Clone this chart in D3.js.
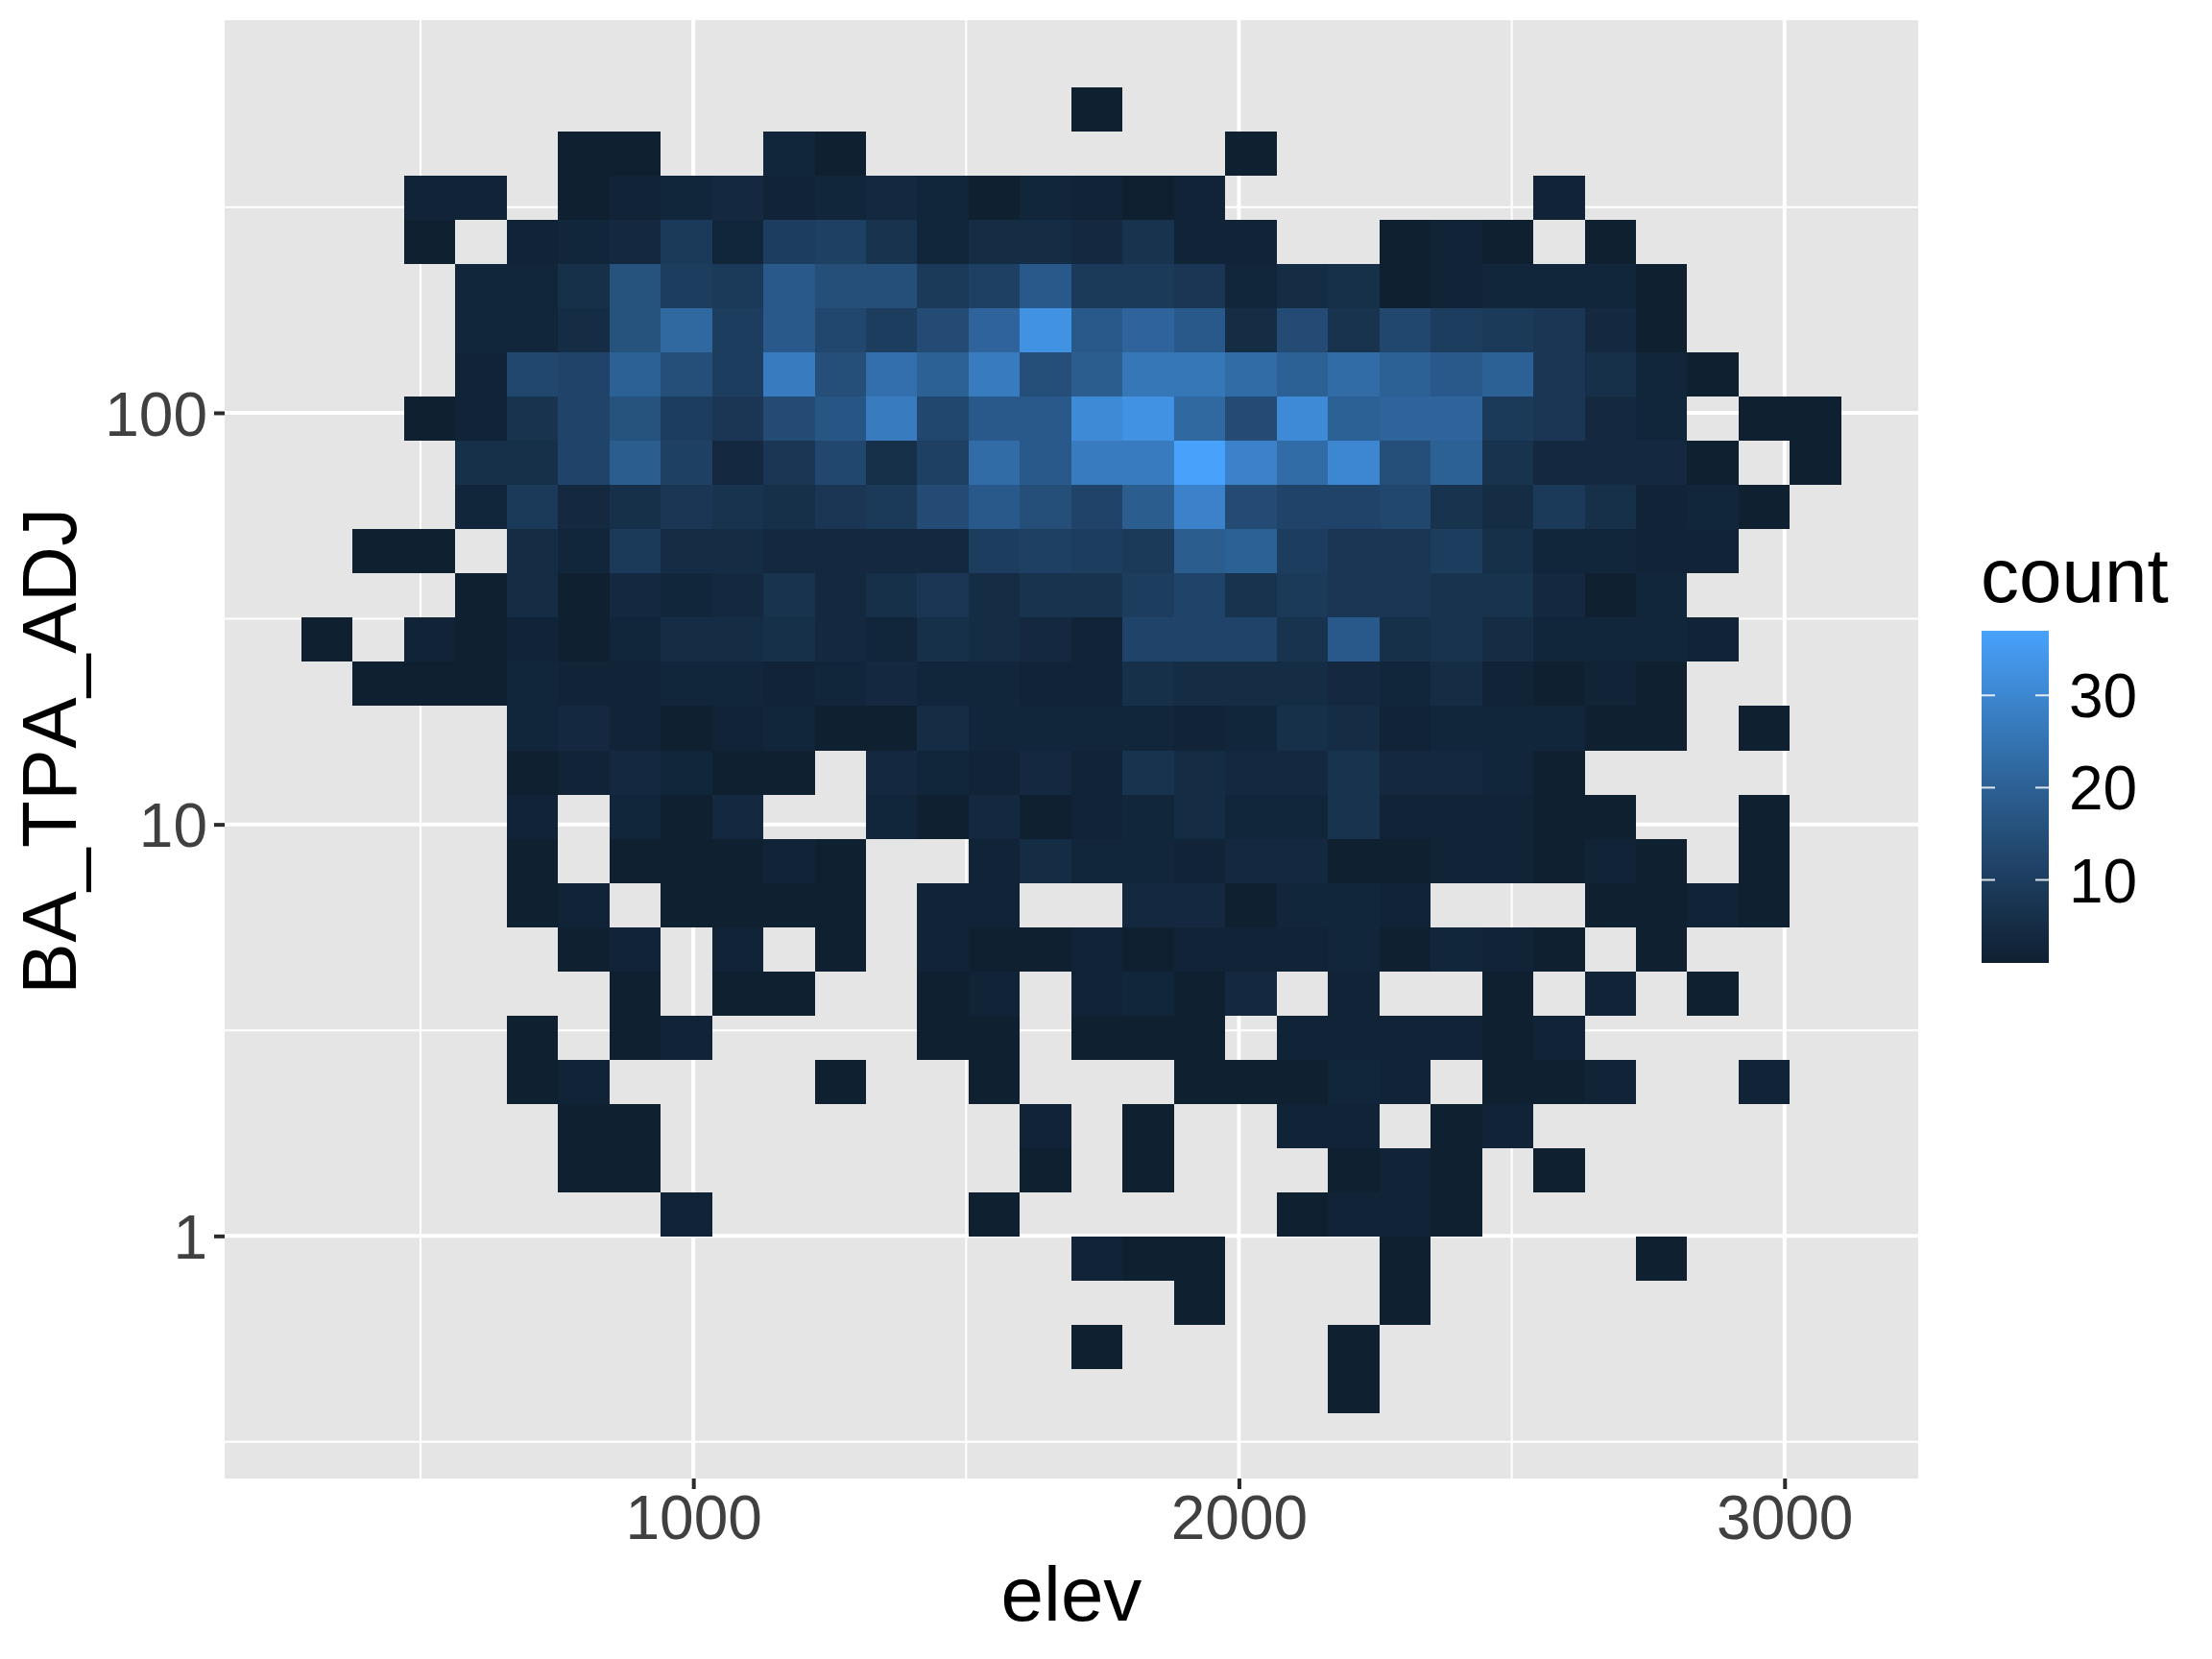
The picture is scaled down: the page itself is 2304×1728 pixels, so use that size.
<!DOCTYPE html>
<html>
<head>
<meta charset="utf-8">
<script src="https://cdnjs.cloudflare.com/ajax/libs/d3/7.8.5/d3.min.js"></script>
<style>
html,body{margin:0;padding:0;background:#fff}
svg{display:block}
text{font-family:"Liberation Sans",Arial,sans-serif;font-kerning:none}
</style>
</head>
<body>
<svg id="chart" width="2304" height="1728"></svg>
<script>
// Bin layout
const elevFirstEdge = 281.6, elevBinWidth = 94.08;
const logFirstEdge = -0.4309, logBinWidth = 0.10739;
const xDomain = [141, 3245];
const yDomain = [0.2574, 899.5];
const xMajor = [1000, 2000, 3000], xMinor = [500, 1500, 2500];
const yMajor = [1, 10, 100], yMinor = [0.316, 3.16, 31.6, 316];
const legendTicks = [10, 20, 30];
const countRange = [1, 37];
// counts per bin: rows from the top of the chart, 30 elev bins each, 0 = no cell
const counts = [
[0,0,0,0,0,0,0,0,0,0,0,0,0,0,0,1,0,0,0,0,0,0,0,0,0,0,0,0,0,0],
[0,0,0,0,0,1,1,0,0,3,1,0,0,0,0,0,0,0,1,0,0,0,0,0,0,0,0,0,0,0],
[0,0,2,2,0,1,2,3,4,2,3,4,3,1,3,2,1,2,0,0,0,0,0,0,2,0,0,0,0,0],
[0,0,1,0,2,3,4,9,3,10,11,7,3,5,5,4,7,2,2,0,0,1,2,1,0,1,0,0,0,0],
[0,0,0,3,3,6,16,10,9,18,15,15,9,11,18,9,9,8,3,5,6,1,2,3,3,3,1,0,0,0],
[0,0,0,3,3,5,16,22,10,18,13,10,14,21,33,18,21,18,5,14,7,13,10,9,8,4,1,0,0,0],
[0,0,0,2,13,12,20,15,10,27,15,24,20,27,15,19,26,26,23,20,23,20,18,20,8,6,3,1,0,0],
[0,0,1,2,7,12,16,10,8,14,17,27,13,18,18,31,33,22,14,31,20,21,21,9,8,4,3,0,1,1],
[0,0,0,6,6,12,19,11,4,8,13,6,11,23,18,27,27,37,29,23,30,15,20,7,4,4,4,1,0,1],
[0,0,0,3,9,4,6,8,7,6,8,9,14,18,15,12,19,29,14,12,12,13,7,5,9,6,2,3,1,0],
[0,1,1,0,5,3,9,5,5,4,4,4,4,10,11,10,9,19,20,10,8,8,10,6,3,3,2,2,0,0],
[0,0,0,1,5,1,4,3,4,7,4,6,8,5,7,7,10,12,7,9,8,8,7,7,4,1,3,0,0,0],
[1,0,2,1,2,1,3,5,5,6,4,3,6,5,4,2,12,12,12,7,18,6,7,5,3,3,3,2,0,0],
[0,1,1,1,3,2,2,3,3,2,3,4,3,3,2,2,6,5,5,5,4,3,5,2,1,2,1,0,0,0],
[0,0,0,0,3,4,2,1,2,3,1,1,5,3,3,3,3,2,3,6,5,2,3,3,3,1,1,0,1,0],
[0,0,0,0,1,2,4,3,1,1,0,4,3,2,4,2,7,5,4,4,7,4,4,3,1,0,0,0,0,0],
[0,0,0,0,2,0,3,1,4,0,0,3,1,4,1,2,3,5,3,3,7,2,2,2,1,1,0,0,1,0],
[0,0,0,0,1,0,1,1,1,2,1,0,0,2,5,3,3,2,4,4,1,1,2,2,1,2,1,0,1,0],
[0,0,0,0,1,2,0,1,1,1,1,0,2,2,0,0,4,4,1,3,3,2,0,0,0,1,1,2,1,0],
[0,0,0,0,0,1,2,0,2,0,1,0,2,1,1,2,1,2,2,2,3,1,3,2,1,0,1,0,0,0],
[0,0,0,0,0,0,1,0,1,1,0,0,1,2,0,2,3,1,4,0,2,0,0,1,0,2,0,1,0,0],
[0,0,0,0,1,0,1,2,0,0,0,0,1,1,0,1,1,1,0,2,2,2,2,1,2,0,0,0,0,0],
[0,0,0,0,1,2,0,0,0,0,1,0,0,1,0,0,0,1,1,1,3,2,0,1,1,2,0,0,2,0],
[0,0,0,0,0,1,1,0,0,0,0,0,0,0,2,0,1,0,0,2,2,0,1,2,0,0,0,0,0,0],
[0,0,0,0,0,1,1,0,0,0,0,0,0,0,1,0,1,0,0,0,1,2,1,0,1,0,0,0,0,0],
[0,0,0,0,0,0,0,2,0,0,0,0,0,1,0,0,0,0,0,1,2,2,1,0,0,0,0,0,0,0],
[0,0,0,0,0,0,0,0,0,0,0,0,0,0,0,2,1,1,0,0,0,1,0,0,0,0,1,0,0,0],
[0,0,0,0,0,0,0,0,0,0,0,0,0,0,0,0,0,1,0,0,0,1,0,0,0,0,0,0,0,0],
[0,0,0,0,0,0,0,0,0,0,0,0,0,0,0,1,0,0,0,0,1,0,0,0,0,0,0,0,0,0],
[0,0,0,0,0,0,0,0,0,0,0,0,0,0,0,0,0,0,0,0,1,0,0,0,0,0,0,0,0,0]
];
const lowColor = "#0f2031", highColor = "#48a2fb";

const panel = {left:234, right:1998, top:21, bottom:1540};
const legend = {x:2064, w:70, top:657, bottom:1003};

const svg = d3.select("#chart");
const x = d3.scaleLinear().domain(xDomain).range([panel.left, panel.right]);
const y = d3.scaleLog().domain(yDomain).range([panel.bottom, panel.top]);
const color = d3.scaleLinear().domain(countRange).range([lowColor, highColor]).interpolate(d3.interpolateLab);

svg.append("rect").attr("x",panel.left).attr("y",panel.top)
  .attr("width",panel.right-panel.left).attr("height",panel.bottom-panel.top).attr("fill","#e5e5e5");

const grid = svg.append("g").attr("stroke","#fff");
grid.selectAll(".xmin").data(xMinor).join("line").attr("x1",x).attr("x2",x)
  .attr("y1",panel.top).attr("y2",panel.bottom).attr("stroke-width",2);
grid.selectAll(".ymin").data(yMinor).join("line").attr("y1",y).attr("y2",y)
  .attr("x1",panel.left).attr("x2",panel.right).attr("stroke-width",2);
grid.selectAll(".xmaj").data(xMajor).join("line").attr("x1",x).attr("x2",x)
  .attr("y1",panel.top).attr("y2",panel.bottom).attr("stroke-width",4);
grid.selectAll(".ymaj").data(yMajor).join("line").attr("y1",y).attr("y2",y)
  .attr("x1",panel.left).attr("x2",panel.right).attr("stroke-width",4);

// cells
const nRows = counts.length;
const cells = [];
counts.forEach((row,r)=>row.forEach((c,k)=>{ if(c>0) cells.push({r,k,c}); }));
const xEdge = k => x(elevFirstEdge + k*elevBinWidth);
const yEdge = i => y(Math.pow(10, logFirstEdge + i*logBinWidth));
svg.append("g").attr("shape-rendering","crispEdges").selectAll("rect").data(cells).join("rect")
  .attr("x",d=>xEdge(d.k))
  .attr("width",d=>xEdge(d.k+1)-xEdge(d.k))
  .attr("y",d=>yEdge(nRows-d.r))
  .attr("height",d=>yEdge(nRows-d.r-1)-yEdge(nRows-d.r))
  .attr("fill",d=>color(d.c));

// axes
const tickFont = 64, titleFont = 80;
const xAxis = d3.axisBottom(x).tickValues(xMajor).tickFormat(d3.format("d")).tickSizeOuter(0).tickSize(11).tickPadding(8);
const gx = svg.append("g").attr("transform",`translate(0,${panel.bottom})`).call(xAxis);
const yAxis = d3.axisLeft(y).tickValues(yMajor).tickFormat(d3.format("d")).tickSizeOuter(0).tickSize(11).tickPadding(7);
const gy = svg.append("g").attr("transform",`translate(${panel.left},0)`).call(yAxis);
[gx,gy].forEach(g=>{
  g.select(".domain").remove();
  g.selectAll("line").attr("stroke","#2b2b2b").attr("stroke-width",4);
  g.selectAll("text").attr("font-size",tickFont).attr("fill","#404040")
   .attr("font-family",'"Liberation Sans",Arial,sans-serif');
});
gx.selectAll("text").attr("dy",null).attr("y",null).attr("transform",null)
  .attr("dominant-baseline",null).attr("y",63);
gy.selectAll("text").attr("dy","0.36em");

svg.append("text").text("elev").attr("x",(panel.left+panel.right)/2).attr("y",1688)
  .attr("text-anchor","middle").attr("font-size",titleFont).attr("fill","#000");
svg.append("text").text("BA_TPA_ADJ")
  .attr("transform",`translate(79,782) rotate(-90)`)
  .attr("text-anchor","middle").attr("font-size",titleFont).attr("letter-spacing",0.5).attr("fill","#000");

// legend
const legendY = d3.scaleLinear().domain(countRange).range([legend.bottom, legend.top]);
const defs = svg.append("defs");
const grad = defs.append("linearGradient").attr("id","cbar").attr("x1",0).attr("x2",0).attr("y1",1).attr("y2",0);
d3.range(0,21).forEach(i=>{
  const t=i/20;
  grad.append("stop").attr("offset",t).attr("stop-color",color(countRange[0]+t*(countRange[1]-countRange[0])));
});
svg.append("rect").attr("x",legend.x).attr("y",legend.top).attr("width",legend.w)
  .attr("height",legend.bottom-legend.top).attr("fill","url(#cbar)");
const lt = svg.append("g").selectAll("g").data(legendTicks).join("g");
lt.append("line").attr("x1",legend.x).attr("x2",legend.x+14).attr("y1",legendY).attr("y2",legendY)
  .attr("stroke","#fff").attr("stroke-width",2).attr("opacity",.85);
lt.append("line").attr("x1",legend.x+legend.w-14).attr("x2",legend.x+legend.w).attr("y1",legendY).attr("y2",legendY)
  .attr("stroke","#fff").attr("stroke-width",2).attr("opacity",.85);
lt.append("text").text(d=>d).attr("x",2155).attr("y",d=>legendY(d)+23)
  .attr("font-size",tickFont).attr("fill","#000");
svg.append("text").text("count").attr("x",2063).attr("y",627).attr("font-size",titleFont).attr("fill","#000");
</script>
</body>
</html>
